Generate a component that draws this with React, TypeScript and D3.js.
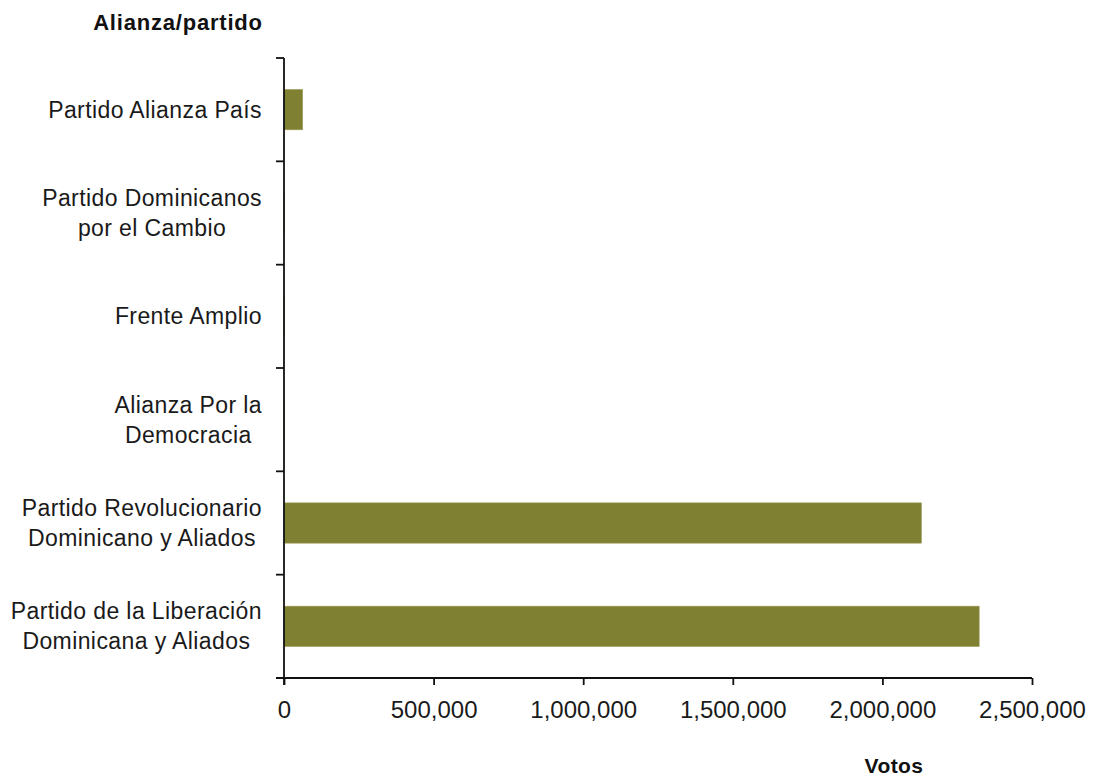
import { useEffect, useRef } from "react";
import * as d3 from "d3";

// categorias (de arriba hacia abajo) y votos
const categories = [
  ["Partido Alianza País"],
  ["Partido Dominicanos", "por el Cambio"],
  ["Frente Amplio"],
  ["Alianza Por la", "Democracia"],
  ["Partido Revolucionario", "Dominicano y Aliados"],
  ["Partido de la Liberación", "Dominicana y Aliados"],
];
const votes = [62296, 1800, 1500, 1500, 2130187, 2323463];
const xTicks = [0, 500000, 1000000, 1500000, 2000000, 2500000];

const W = 1097;
const H = 776;
const FONT = "'Liberation Sans', Arial, sans-serif";

const App = () => {
  const ref = useRef<SVGSVGElement>(null);

  useEffect(() => {
    const svg = d3.select(ref.current);
    svg.selectAll("*").remove();

    const left = 284;
    const right = 1032;
    const top = 58;
    const bottom = 678;

    const x = d3.scaleLinear().domain([0, 2500000]).range([left, right]);
    const y = d3
      .scaleBand<number>()
      .domain(d3.range(categories.length))
      .range([top, bottom])
      .paddingInner(0.61)
      .paddingOuter(0.305);

    // barras
    svg
      .append("g")
      .selectAll("rect")
      .data(votes)
      .join("rect")
      .attr("x", x(0))
      .attr("y", (_, i) => y(i)!)
      .attr("width", (d) => x(d) - x(0))
      .attr("height", y.bandwidth())
      .attr("fill", "#808033")
      .attr("stroke", "#9a9a5a")
      .attr("stroke-width", 0.6);

    // eje x
    const xAxis = d3
      .axisBottom(x)
      .tickValues(xTicks)
      .tickSize(7)
      .tickSizeOuter(0)
      .tickFormat((d) => d3.format(",")(d as number));
    const gx = svg
      .append("g")
      .attr("transform", `translate(0,${bottom})`)
      .call(xAxis);
    gx.select(".domain").remove();
    gx.selectAll(".tick line").attr("stroke", "#111").attr("stroke-width", 1.8);
    gx.selectAll(".tick text")
      .attr("y", 40)
      .attr("dy", 0)
      .attr("fill", "#1a1a1a")
      .style("font-family", FONT)
      .style("font-size", "24px");
    svg
      .append("line")
      .attr("x1", left - 8)
      .attr("x2", right)
      .attr("y1", bottom)
      .attr("y2", bottom)
      .attr("stroke", "#111")
      .attr("stroke-width", 1.8);

    // eje y
    const step = y.step();
    svg
      .append("g")
      .selectAll("line")
      .data(d3.range(categories.length + 1))
      .join("line")
      .attr("x1", left - 8)
      .attr("x2", left)
      .attr("y1", (i) => top + i * step)
      .attr("y2", (i) => top + i * step)
      .attr("stroke", "#111")
      .attr("stroke-width", 1.8);
    svg
      .append("line")
      .attr("x1", left)
      .attr("x2", left)
      .attr("y1", top)
      .attr("y2", bottom + 7)
      .attr("stroke", "#111")
      .attr("stroke-width", 1.8);

    // etiquetas de categorias: bloque alineado a la derecha, lineas centradas
    const labelRight = 262;
    const lineH = 30;
    categories.forEach((lines, i) => {
      const cy = y(i)! + y.bandwidth() / 2;
      const g = svg.append("g");
      const texts = lines.map((t, j) =>
        g
          .append("text")
          .attr("y", cy - ((lines.length - 1) * lineH) / 2 + j * lineH + 8)
          .attr("text-anchor", "middle")
          .attr("fill", "#1a1a1a")
          .style("font-family", FONT)
          .style("font-size", "23px")
          .style("letter-spacing", "0.4px")
          .text(t)
      );
      const maxW = d3.max(texts, (t) => t.node()!.getComputedTextLength()) ?? 0;
      texts.forEach((t) => t.attr("x", labelRight - maxW / 2));
    });

    // titulos
    svg
      .append("text")
      .attr("x", 178)
      .attr("y", 30)
      .attr("text-anchor", "middle")
      .attr("fill", "#111")
      .style("font-family", FONT)
      .style("font-weight", "bold")
      .style("font-size", "22px")
      .style("letter-spacing", "0.8px")
      .text("Alianza/partido");
    svg
      .append("text")
      .attr("x", 894)
      .attr("y", 773)
      .attr("text-anchor", "middle")
      .attr("fill", "#111")
      .style("font-family", FONT)
      .style("font-weight", "bold")
      .style("font-size", "21px")
      .style("letter-spacing", "0.4px")
      .text("Votos");
  }, []);

  return (
    <svg
      ref={ref}
      width={W}
      height={H}
      style={{ position: "absolute", left: 0, top: 0, background: "#fff" }}
    />
  );
};

export default App;
